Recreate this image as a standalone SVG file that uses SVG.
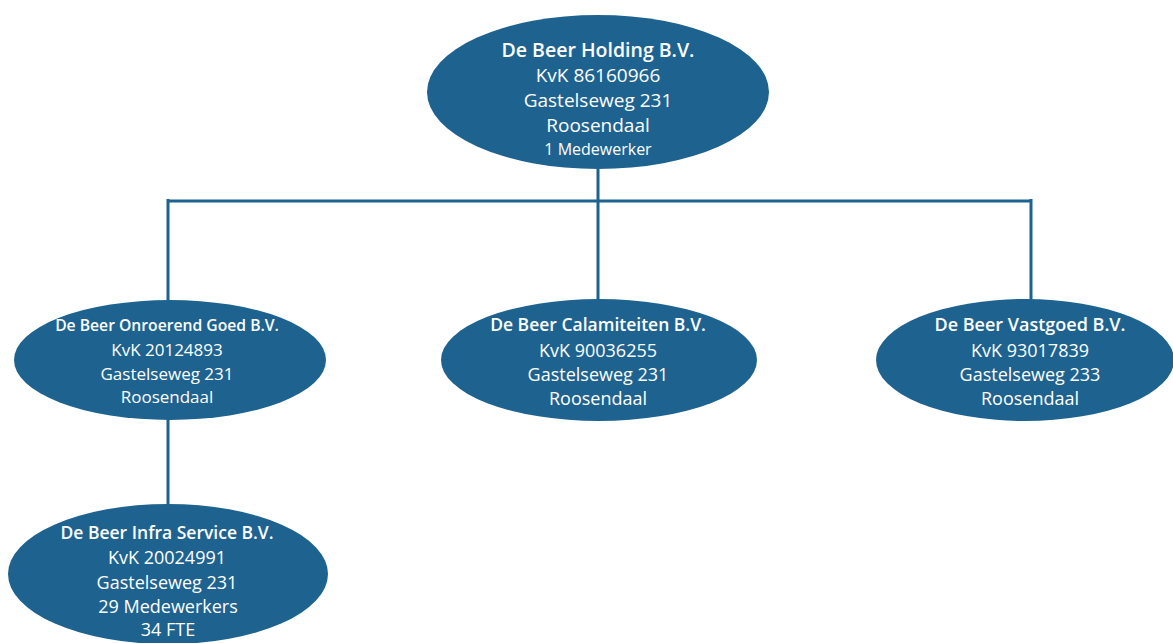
<svg xmlns="http://www.w3.org/2000/svg" width="1173" height="643" viewBox="0 0 1173 643">
<style>
.n{fill:#1e6390;}
.t{fill:#ffffff;font-family:"Open Sans","Noto Sans",sans-serif;text-anchor:middle;}
.b{font-weight:600;}
.c{fill:none;stroke:#1e6390;stroke-width:3;}
</style>
<rect width="1173" height="643" fill="#ffffff"/>
<g id="connectors">
<path class="c" d="M598 165V201M168 201H1031M168 199V305M598 201V305M1031 199V305M168 415V510"/>
</g>
<g id="holding">
<ellipse class="n" cx="598" cy="92" rx="171" ry="77"/>
<text class="t b" x="598" y="57" font-size="19.5">De Beer Holding B.V.</text>
<text class="t" x="598" y="82" font-size="19">KvK 86160966</text>
<text class="t" x="598" y="107" font-size="19">Gastelseweg 231</text>
<text class="t" x="598" y="132" font-size="19">Roosendaal</text>
<text class="t" x="598" y="155" font-size="16">1 Medewerker</text>
</g>
<g id="onroerend">
<ellipse class="n" cx="170" cy="360" rx="156" ry="60"/>
<text class="t b" x="167" y="331" font-size="15.7">De Beer Onroerend Goed B.V.</text>
<text class="t" x="167" y="356" font-size="17">KvK 20124893</text>
<text class="t" x="167" y="380" font-size="17">Gastelseweg 231</text>
<text class="t" x="167" y="403" font-size="17">Roosendaal</text>
</g>
<g id="calamiteiten">
<ellipse class="n" cx="599" cy="360" rx="158" ry="61"/>
<text class="t b" x="598" y="331" font-size="17.5">De Beer Calamiteiten B.V.</text>
<text class="t" x="598" y="357" font-size="18">KvK 90036255</text>
<text class="t" x="598" y="381" font-size="18">Gastelseweg 231</text>
<text class="t" x="598" y="405" font-size="18">Roosendaal</text>
</g>
<g id="vastgoed">
<ellipse class="n" cx="1025" cy="360" rx="149" ry="61"/>
<text class="t b" x="1030" y="331" font-size="18">De Beer Vastgoed B.V.</text>
<text class="t" x="1030" y="357" font-size="18">KvK 93017839</text>
<text class="t" x="1030" y="381" font-size="18">Gastelseweg 233</text>
<text class="t" x="1030" y="405" font-size="18">Roosendaal</text>
</g>
<g id="infra">
<ellipse class="n" cx="168" cy="574" rx="160" ry="70"/>
<text class="t b" x="167" y="539" font-size="17.5">De Beer Infra Service B.V.</text>
<text class="t" x="167" y="564" font-size="18">KvK 20024991</text>
<text class="t" x="167" y="589" font-size="18">Gastelseweg 231</text>
<text class="t" x="168" y="613" font-size="18">29 Medewerkers</text>
<text class="t" x="168" y="636" font-size="18">34 FTE</text>
</g>
</svg>
